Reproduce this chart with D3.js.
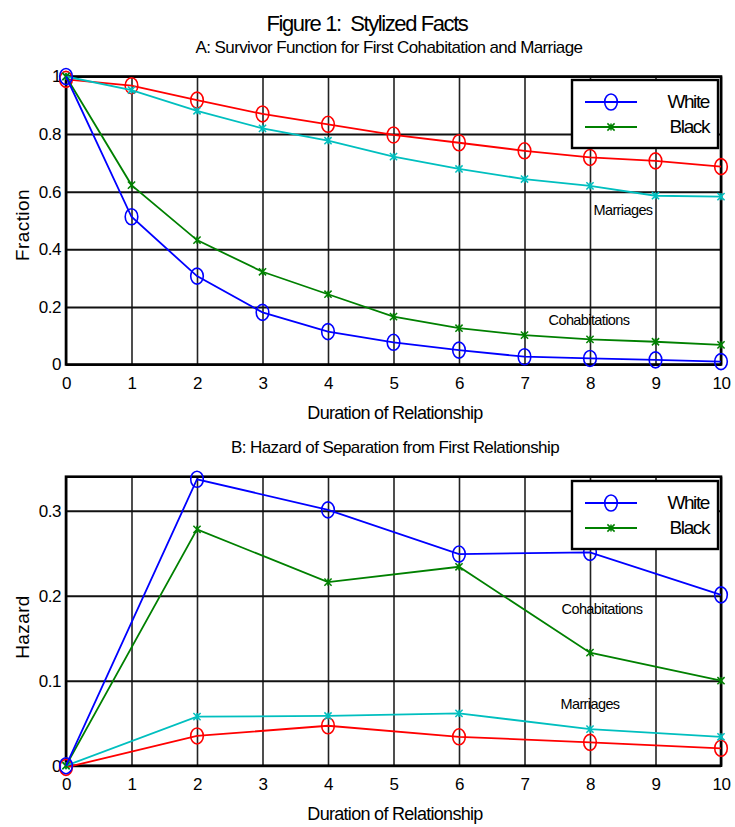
<!DOCTYPE html>
<html><head><meta charset="utf-8">
<script src="https://cdn.jsdelivr.net/npm/d3@7"></script>
<style>
body{margin:0;background:#fff;}
text{font-family:"Liberation Sans",Arial,sans-serif;white-space:pre;}
</style></head>
<body><svg id="c" width="735" height="827"></svg>
<script>
// ---- data ----
const durationTop = [0,1,2,3,4,5,6,7,8,9,10];
const cohabWhite = [1.0,0.513,0.307,0.181,0.114,0.077,0.050,0.027,0.021,0.016,0.010];
const cohabBlack = [1.0,0.623,0.432,0.322,0.244,0.166,0.126,0.102,0.087,0.079,0.068];
const marrWhite  = [0.99,0.968,0.918,0.870,0.834,0.797,0.770,0.742,0.719,0.707,0.687];
const marrBlack  = [1.0,0.953,0.881,0.820,0.777,0.722,0.679,0.644,0.620,0.586,0.583];

const durationBot = [0,2,4,6,8,10];
const hazCohabWhite = [0,0.337,0.301,0.249,0.251,0.201];
const hazCohabBlack = [0,0.278,0.216,0.234,0.133,0.100];
const hazMarrWhite  = [-0.002,0.035,0.047,0.034,0.0275,0.0205];
const hazMarrBlack  = [0,0.0577,0.0585,0.0616,0.043,0.034];

const xTicks = [0,1,2,3,4,5,6,7,8,9,10];
const yTicksTop = [0,0.2,0.4,0.6,0.8,1];
const yTicksBot = [0,0.1,0.2,0.3];
const legendLabels = ["White","Black"];

const svg = d3.select("#c");
const C = {blue:"#0000ff", green:"#008000", red:"#ff0000", cyan:"#00bfbf"};

function txt(x,y,s,size,anchor,extra){
  const t = svg.append("text").attr("x",x).attr("y",y).text(s)
    .attr("font-size",size).attr("text-anchor",anchor||"middle").attr("fill","#000");
  if(extra) extra(t);
  return t;
}
const cond = ls => t => t.attr("letter-spacing",ls);

txt(367,31,"Figure 1:  Stylized Facts",22,"middle",cond(-1.4));
txt(389,53,"A: Survivor Function for First Cohabitation and Marriage",17,"middle",cond(-0.6));
txt(395,453,"B: Hazard of Separation from First Relationship",17,"middle",cond(-0.6));

function panel(cfg){
  const x = d3.scaleLinear().domain([0,10]).range([66,721]);
  const y = d3.scaleLinear().domain(cfg.ydom).range([cfg.y0,cfg.y1]);
  const g = svg.append("g");
  // grid
  g.append("g").attr("transform",`translate(0,${cfg.y0})`)
    .call(d3.axisBottom(x).tickValues(xTicks).tickSize(-(cfg.y0-cfg.y1)).tickFormat(""))
    .call(a=>{a.select(".domain").remove();a.selectAll("line").attr("stroke","#222").attr("stroke-width",1.6);});
  g.append("g").attr("transform",`translate(66,0)`)
    .call(d3.axisLeft(y).tickValues(cfg.yticks).tickSize(-(721-66)).tickFormat(""))
    .call(a=>{a.select(".domain").remove();a.selectAll("line").attr("stroke","#111").attr("stroke-width",2);});
  // frame
  g.append("rect").attr("x",66).attr("y",cfg.y1).attr("width",721-66).attr("height",cfg.y0-cfg.y1)
    .attr("fill","none").attr("stroke","#000").attr("stroke-width",2.6);
  // tick labels
  g.append("g").attr("transform",`translate(0,${cfg.y0})`)
    .call(d3.axisBottom(x).tickValues(xTicks).tickSize(0).tickPadding(cfg.xpad).tickFormat(d3.format("d")))
    .call(a=>{a.select(".domain").remove();a.selectAll("text").attr("font-size",17).attr("font-family","Liberation Sans, Arial").attr("fill","#000").attr("letter-spacing",-0.5);});
  g.append("g").attr("transform",`translate(66,0)`)
    .call(d3.axisLeft(y).tickValues(cfg.yticks).tickSize(0).tickPadding(5).tickFormat(d=>d===0?"0":(d===1?"1":d3.format(".1f")(d))))
    .call(a=>{a.select(".domain").remove();a.selectAll("text").attr("font-size",17).attr("font-family","Liberation Sans, Arial").attr("fill","#000").attr("letter-spacing",-0.5);});
  // series
  const line = d3.line().x(d=>x(d[0])).y(d=>y(d[1]));
  cfg.series.forEach(s=>{
    const pts = cfg.xs.map((d,i)=>[d,s.vals[i]]);
    g.append("path").datum(pts).attr("d",line).attr("fill","none").attr("stroke",s.color).attr("stroke-width",1.8);
    pts.forEach(p=>marker(g,x(p[0]),y(p[1]),s.mark,s.color));
  });
  // legend
  const L = cfg.legend;
  g.append("rect").attr("x",572).attr("y",L.top).attr("width",146).attr("height",68)
    .attr("fill","#fff").attr("stroke","#000").attr("stroke-width",2.4);
  [[legendLabels[0],C.blue,"o",L.top+22],[legendLabels[1],C.green,"x",L.top+47]].forEach(r=>{
    g.append("line").attr("x1",585).attr("x2",637).attr("y1",r[3]).attr("y2",r[3]).attr("stroke",r[1]).attr("stroke-width",1.8);
    marker(g,611,r[3],r[2],r[1]);
    txt(709,r[3]+6,r[0],19,"end",cond(-1.4));
  });
  cfg.notes.forEach(n=>txt(n[0],n[1],n[2],14.5,"middle",cond(-0.6)));
  txt(395,cfg.xlabY,"Duration of Relationship",18,"middle",cond(-0.7));
  txt(0,0,cfg.ylab,19,"middle",t=>t.attr("transform",`translate(29,${cfg.ylabY}) rotate(-90)`).attr("letter-spacing",0.4));
}
function marker(g,cx,cy,m,color){
  if(m==="o"){
    g.append("ellipse").attr("cx",cx).attr("cy",cy).attr("rx",6.3).attr("ry",8)
      .attr("fill","none").attr("stroke",color).attr("stroke-width",1.6);
  } else {
    const r=3.6;
    g.append("path").attr("d",`M${cx-r},${cy-r}L${cx+r},${cy+r}M${cx-r},${cy+r}L${cx+r},${cy-r}M${cx},${cy-r}L${cx},${cy+r}`)
      .attr("stroke",color).attr("stroke-width",1.5).attr("fill","none");
  }
}

panel({ydom:[0,1],y0:364.5,y1:76.5,yticks:yTicksTop,xs:durationTop,xpad:12,
  series:[
    {vals:marrWhite,color:C.red,mark:"o"},
    {vals:marrBlack,color:C.cyan,mark:"x"},
    {vals:cohabBlack,color:C.green,mark:"x"},
    {vals:cohabWhite,color:C.blue,mark:"o"}],
  legend:{top:80},
  notes:[[623,215,"Marriages"],[589,325,"Cohabitations"]],
  xlabY:419, ylab:"Fraction", ylabY:225});

panel({ydom:[0,0.34],y0:765.7,y1:476.7,yticks:yTicksBot,xs:durationBot,xpad:12,
  series:[
    {vals:hazMarrWhite,color:C.red,mark:"o"},
    {vals:hazMarrBlack,color:C.cyan,mark:"x"},
    {vals:hazCohabBlack,color:C.green,mark:"x"},
    {vals:hazCohabWhite,color:C.blue,mark:"o"}],
  legend:{top:481},
  notes:[[602,614,"Cohabitations"],[590,709,"Marriages"]],
  xlabY:820, ylab:"Hazard", ylabY:627});
</script></body></html>
